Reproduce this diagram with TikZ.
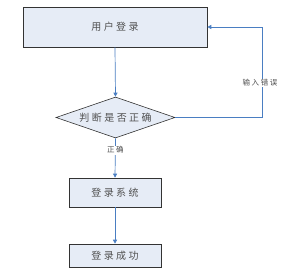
\documentclass[tikz,border=0pt]{standalone}
\usepackage{fontspec}
\newfontfamily\cjk{Noto Sans CJK SC}[LetterSpace=25]
\newfontfamily\cjklab{Noto Sans CJK SC}[LetterSpace=22]
\usetikzlibrary{arrows.meta,shapes.geometric,shadows}
\definecolor{boxfill}{HTML}{E6ECF6}
\definecolor{linkblue}{HTML}{4A7EC2}
\definecolor{txt}{HTML}{505050}
\begin{document}
\begin{tikzpicture}[x=1pt,y=-1pt,
  box/.style={draw=black!80,line width=0.6pt,fill=boxfill,
    drop shadow={shadow xshift=1pt,shadow yshift=-1pt,fill=black!60,opacity=1},
    font=\cjk\fontsize{10}{11}\selectfont,text=txt,inner sep=0pt},
  dia/.style={diamond,draw=black!80,line width=0.6pt,fill=boxfill,aspect=2.9,inner sep=0pt,
    minimum width=119pt,minimum height=41pt,font=\cjk\fontsize{10}{11}\selectfont,text=txt},
  link/.style={draw=linkblue,line width=0.7pt,-{Triangle[length=4pt,width=4pt]}},
  lab/.style={font=\cjklab\fontsize{7.5}{8}\selectfont,text=txt,fill=white,inner sep=1pt}]
\useasboundingbox (0,0) rectangle (287,278);
\node[box,minimum width=184pt,minimum height=40pt] (login) at (115,27) {用户登录};
\node[dia] (check) at (115.5,117.5) {判断是否正确};
\node[box,minimum width=92pt,minimum height=29pt] (sys) at (115,192.5) {登录系统};
\node[box,minimum width=92pt,minimum height=23pt] (ok) at (115,255.5) {登录成功};
\draw[link] (login.south) -- (check.north);
\draw[link] (check.south) -- (sys.north) node[lab,pos=0.3] {正确};
\draw[link] (sys.south) -- (ok.north);
\coordinate (c1) at (262,117.5);
\coordinate (c2) at (262,27);
\draw[link] (check.east) -- (c1) -- (c2) -- (login.east);
\node[lab] (err) at (260,83) {输入错误};
\end{tikzpicture}
\end{document}
